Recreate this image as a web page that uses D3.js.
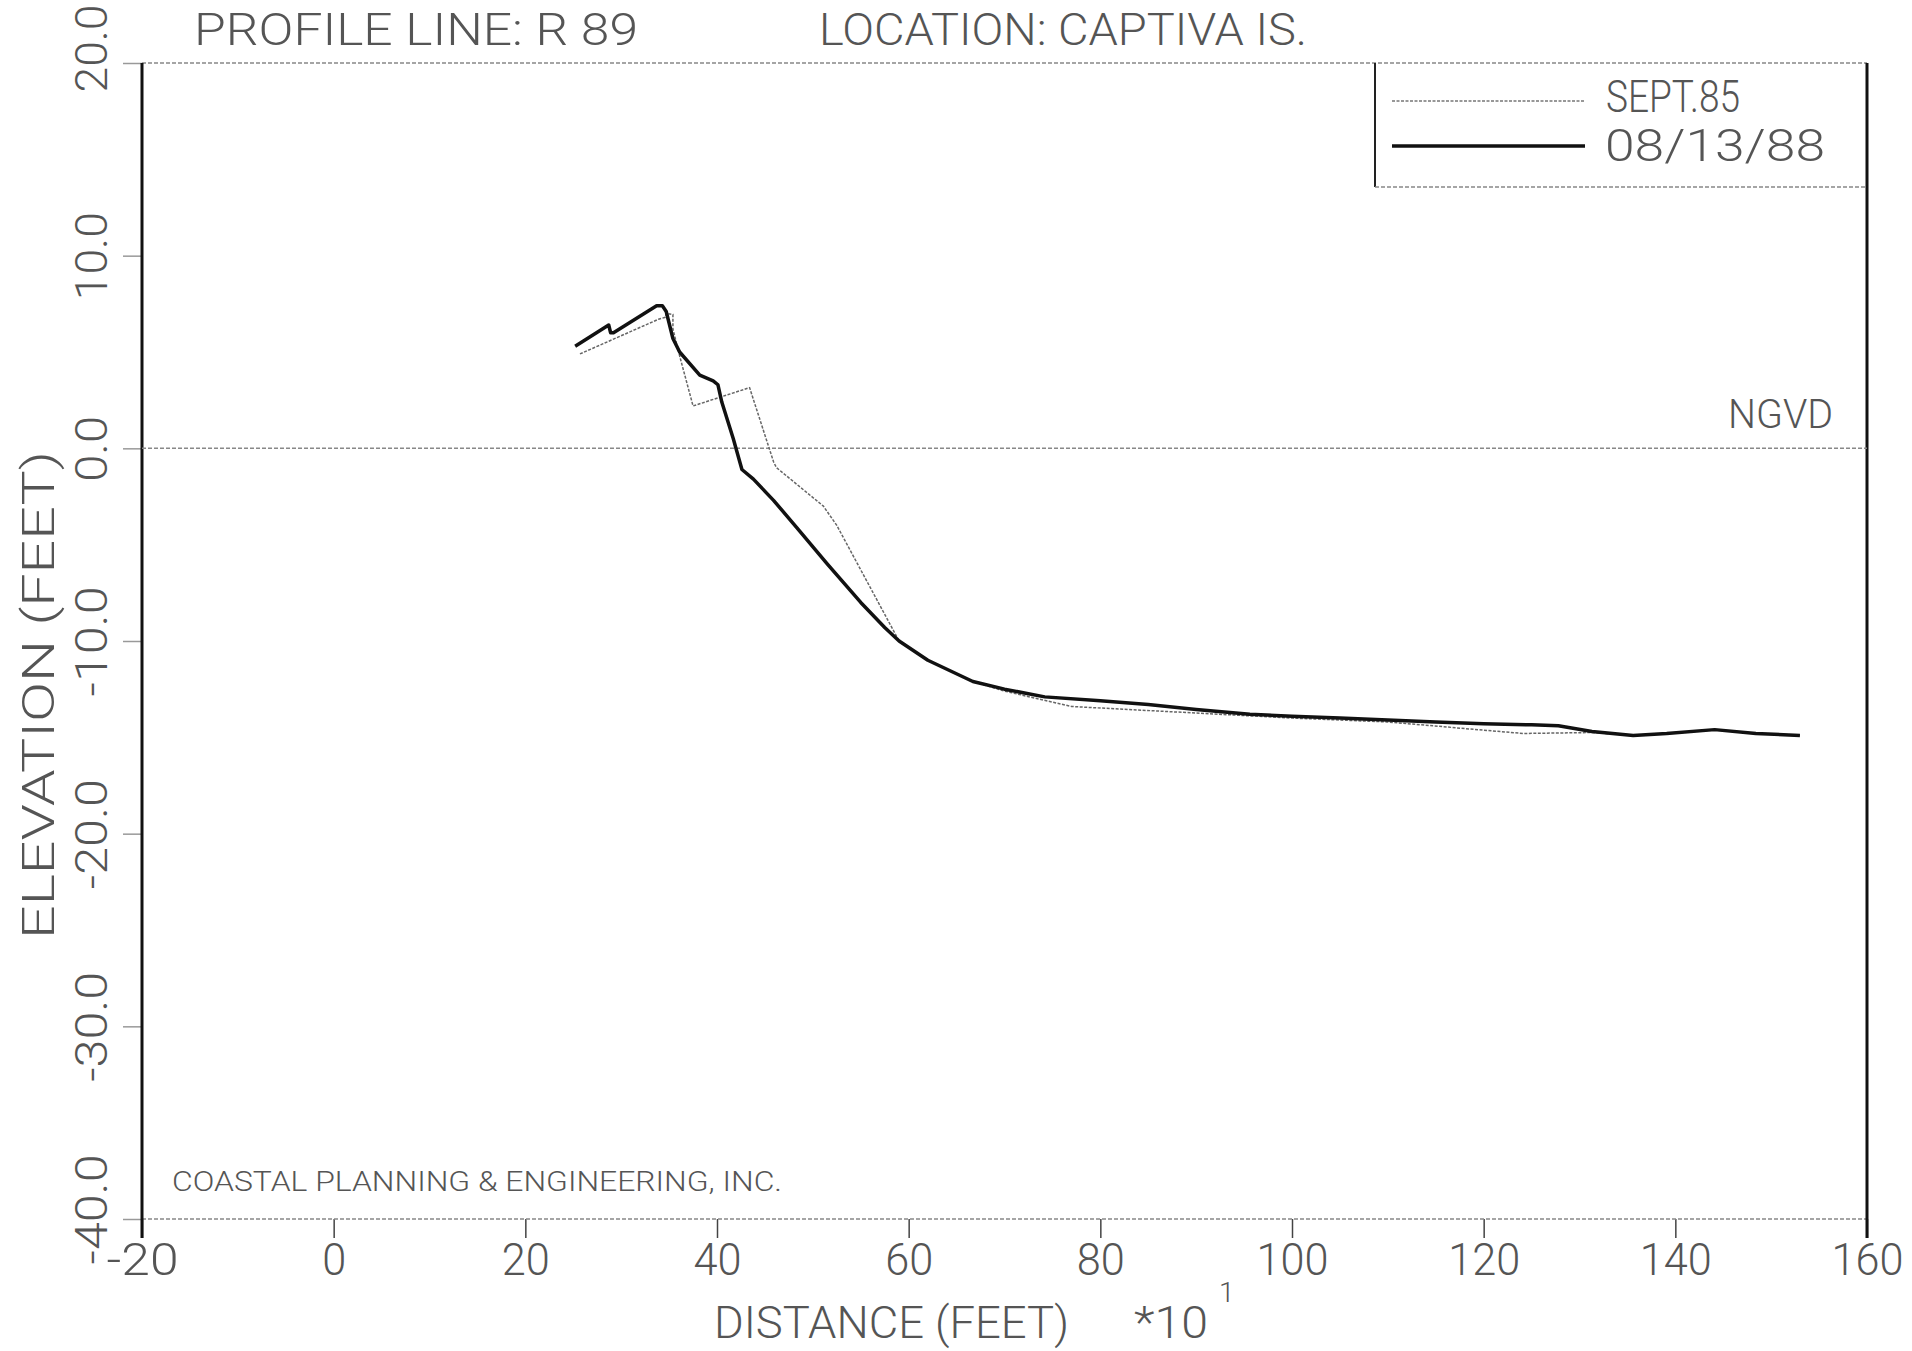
<!DOCTYPE html>
<html>
<head>
<meta charset="utf-8">
<script src="https://cdn.jsdelivr.net/npm/d3@7"></script>
<style>
  body { margin: 0; background: #fff; }
  svg { display: block; }
  text { font-family: Roboto, "Liberation Sans Narrow", "DejaVu Sans Condensed", sans-serif; font-weight: 300; fill: #555; }
</style>
</head>
<body>
<div id="chart"></div>
<script>
// Profile R 89, Captiva Is. -- distance in feet * 10, elevation in feet (NGVD)
var xTicks = [-20, 0, 20, 40, 60, 80, 100, 120, 140, 160];
var yTicks = [-40, -30, -20, -10, 0, 10, 20];

// SEPT.85 survey (thin line)
var sept85Dist = [25.7, 33.9, 34.6, 34.7, 35.4, 35.4, 36.1, 37.5, 43.4, 45.9, 46.2, 51.1, 52.5, 59.0,
                  62.0, 66.7, 70.0, 77.0, 88.5, 100.0, 109.9, 124.1, 131.3, 135.6, 139.1, 144.1, 148.4, 153.0];
var sept85Elev = [4.9, 6.7, 6.8, 7.0, 6.95, 6.2, 4.8, 2.2, 3.15, -0.7, -1.0, -3.0, -4.0, -10.0,
                  -11.0, -12.1, -12.6, -13.4, -13.7, -14.0, -14.2, -14.8, -14.75, -14.9, -14.8, -14.6, -14.8, -14.9];

// 08/13/88 survey (thick line)
var aug88Dist = [25.2, 28.7, 28.9, 29.2, 33.7, 34.3, 34.7, 35.4, 36.1, 38.2, 39.6, 40.1, 40.5, 41.7,
                 42.6, 43.8, 45.9, 48.3, 51.5, 55.0, 57.5, 59.0, 62.0, 66.7, 70.0, 74.2, 80.0, 85.0,
                 90.0, 95.6, 100.0, 105.0, 110.0, 115.0, 120.0, 125.0, 127.8, 131.3, 135.6, 139.1,
                 144.1, 148.4, 153.0];
var aug88Elev = [5.3, 6.4, 6.0, 6.0, 7.4, 7.4, 7.1, 5.7, 5.0, 3.8, 3.5, 3.3, 2.4, 0.5,
                 -1.1, -1.6, -2.7, -4.1, -6.0, -8.0, -9.3, -10.0, -11.0, -12.1, -12.5, -12.9, -13.1, -13.3,
                 -13.55, -13.8, -13.9, -14.0, -14.1, -14.2, -14.3, -14.35, -14.4, -14.7, -14.9, -14.8,
                 -14.6, -14.8, -14.9];

var width = 1912, height = 1351;
var plotLeft = 142, plotRight = 1867, plotTop = 63, plotBottom = 1219;

var svg = d3.select("#chart").append("svg")
    .attr("width", width)
    .attr("height", height);

var x = d3.scaleLinear().domain([-20, 160]).range([plotLeft, plotRight]);
var y = d3.scaleLinear().domain([-40, 20]).range([plotBottom, plotTop]);

// little helper so the narrow plotter lettering keeps its width
function fixText(sel, len) {
    sel.attr("textLength", len).attr("lengthAdjust", "spacingAndGlyphs");
}

// Axes
var xAxis = d3.axisBottom(x)
    .tickValues(xTicks)
    .tickSize(19)
    .tickPadding(5)
    .tickFormat(function(d) { return String(d); });

var gx = svg.append("g")
    .attr("transform", "translate(0," + plotBottom + ")")
    .call(xAxis);
gx.select(".domain").remove();
gx.selectAll(".tick line").attr("stroke", "#444").attr("stroke-width", 1.5);
gx.selectAll(".tick text")
    .attr("font-size", 45)
    .attr("fill", "#555")
    .each(function(d) { fixText(d3.select(this), 24 * String(d).length); });

var yAxis = d3.axisLeft(y)
    .tickValues(yTicks)
    .tickSize(19)
    .tickFormat(function(d) { return d.toFixed(1); });

var gy = svg.append("g")
    .attr("transform", "translate(" + plotLeft + ",0)")
    .call(yAxis);
gy.select(".domain").remove();
gy.selectAll(".tick line").attr("stroke", "#999").attr("stroke-width", 1.5);
gy.selectAll(".tick text")
    .attr("font-size", 44)
    .attr("fill", "#555")
    .attr("x", null).attr("dy", null)
    .attr("text-anchor", "middle")
    .attr("transform", function(d) {
        // end labels sit a bit higher on the plot sheet
        var shift = d === 20 ? -15 : (d === -40 ? -10 : 0);
        return "translate(-35," + shift + ") rotate(-90)";
    })
    .each(function(d) { fixText(d3.select(this), 22 * d.toFixed(1).length); });

// Frame: dotted top/bottom, solid sides
[plotTop, plotBottom].forEach(function(v) {
    svg.append("line")
        .attr("x1", plotLeft).attr("x2", plotRight)
        .attr("y1", v).attr("y2", v)
        .attr("stroke", "#888").attr("stroke-width", 1.5)
        .attr("stroke-dasharray", "4,2");
});
[plotLeft, plotRight].forEach(function(v) {
    svg.append("line")
        .attr("x1", v).attr("x2", v)
        .attr("y1", plotTop).attr("y2", plotBottom + 19)
        .attr("stroke", "#111").attr("stroke-width", 3);
});

// NGVD datum
svg.append("line")
    .attr("x1", plotLeft).attr("x2", plotRight)
    .attr("y1", y(0)).attr("y2", y(0))
    .attr("stroke", "#888").attr("stroke-width", 1.5)
    .attr("stroke-dasharray", "4,2");
fixText(svg.append("text")
    .attr("x", 1728).attr("y", 428)
    .attr("font-size", 40)
    .text("NGVD"), 105);

// Profiles
var line = d3.line()
    .x(function(d) { return x(d[0]); })
    .y(function(d) { return y(d[1]); });

var sept85 = d3.zip(sept85Dist, sept85Elev);
var aug88 = d3.zip(aug88Dist, aug88Elev);

svg.append("path")
    .datum(sept85)
    .attr("d", line)
    .attr("fill", "none")
    .attr("stroke", "#666")
    .attr("stroke-width", 1.5)
    .attr("stroke-dasharray", "3,1.5");

svg.append("path")
    .datum(aug88)
    .attr("d", line)
    .attr("fill", "none")
    .attr("stroke", "#111")
    .attr("stroke-width", 3.5)
    .attr("stroke-linejoin", "round");

// Legend box
var legX = 1375, legBottom = 187;
svg.append("line")
    .attr("x1", legX).attr("x2", legX)
    .attr("y1", plotTop).attr("y2", legBottom)
    .attr("stroke", "#222").attr("stroke-width", 2);
svg.append("line")
    .attr("x1", legX).attr("x2", plotRight)
    .attr("y1", legBottom).attr("y2", legBottom)
    .attr("stroke", "#888").attr("stroke-width", 1.5)
    .attr("stroke-dasharray", "4,2");

svg.append("line")
    .attr("x1", 1392).attr("x2", 1585)
    .attr("y1", 101).attr("y2", 101)
    .attr("stroke", "#777").attr("stroke-width", 1.5)
    .attr("stroke-dasharray", "3,1.5");
svg.append("line")
    .attr("x1", 1392).attr("x2", 1585)
    .attr("y1", 146).attr("y2", 146)
    .attr("stroke", "#111").attr("stroke-width", 3.5);

fixText(svg.append("text").attr("x", 1606).attr("y", 112).attr("font-size", 45).text("SEPT.85"), 134);
fixText(svg.append("text").attr("x", 1605).attr("y", 161).attr("font-size", 45).text("08/13/88"), 220);

// Titles
fixText(svg.append("text").attr("x", 194).attr("y", 45).attr("font-size", 45).text("PROFILE LINE: R 89"), 444);
fixText(svg.append("text").attr("x", 819).attr("y", 45).attr("font-size", 45).text("LOCATION: CAPTIVA IS."), 488);

fixText(svg.append("text").attr("x", 172).attr("y", 1191).attr("font-size", 27)
    .text("COASTAL PLANNING & ENGINEERING, INC."), 610);

// Axis titles
fixText(svg.append("text").attr("x", 714).attr("y", 1338).attr("font-size", 45)
    .text("DISTANCE (FEET)"), 355);
fixText(svg.append("text").attr("x", 1134).attr("y", 1338).attr("font-size", 45)
    .text("*10"), 74);
svg.append("text").attr("x", 1219).attr("y", 1302).attr("font-size", 28).text("1");

fixText(svg.append("text")
    .attr("transform", "translate(54,695) rotate(-90)")
    .attr("text-anchor", "middle")
    .attr("font-size", 45)
    .text("ELEVATION (FEET)"), 488);
</script>
</body>
</html>
